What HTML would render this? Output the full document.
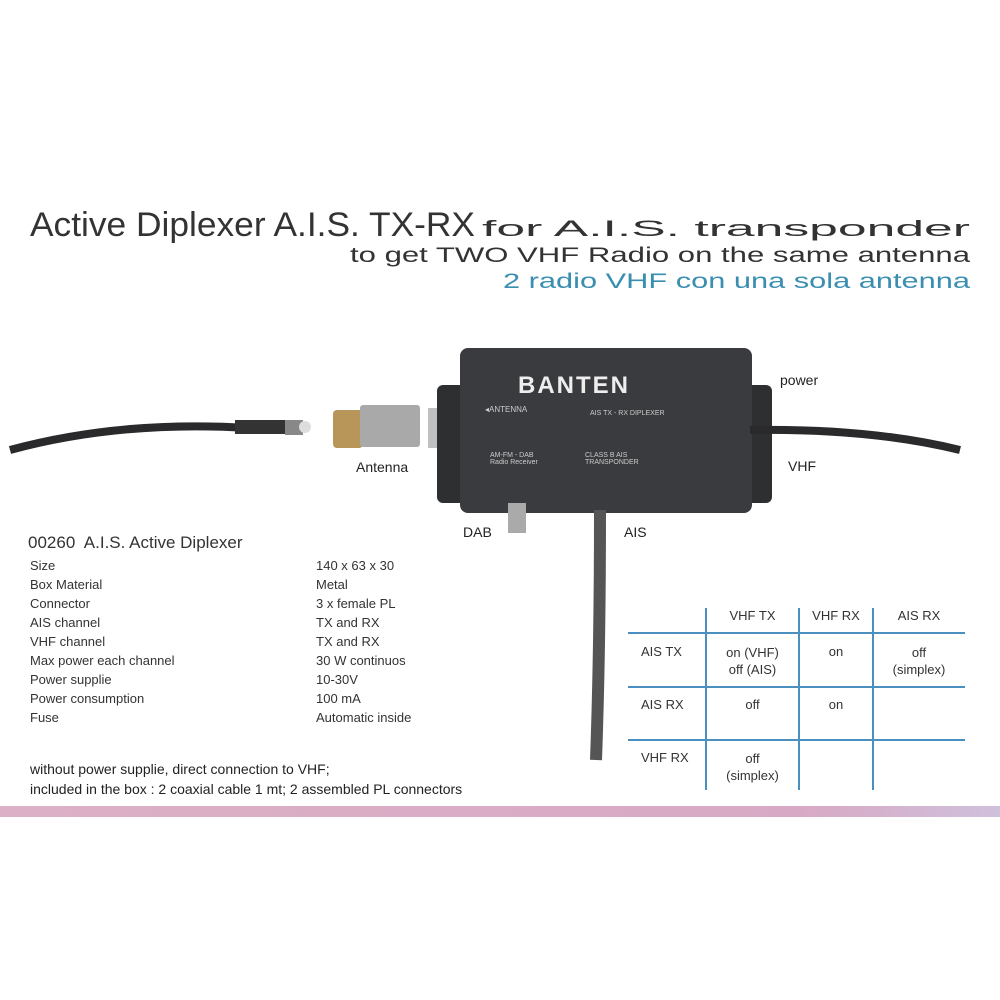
<!DOCTYPE html>
<html><head><meta charset="utf-8"><style>
body{margin:0;width:1000px;height:1000px;background:#fff;position:relative;overflow:hidden;font-family:"Liberation Sans",sans-serif;color:#222}
.a{position:absolute;white-space:nowrap}
.t{font-size:13px;color:#333}
</style></head><body>
<svg class="a" style="left:0;top:0" width="1000" height="1000">
<defs><linearGradient id="pk" x1="0" x2="1"><stop offset="0" stop-color="#dcb0c6"/><stop offset="0.8" stop-color="#d8a9c4"/><stop offset="1" stop-color="#cfc0dc"/></linearGradient></defs>
<g font-family="Liberation Sans, sans-serif" fill="#333">
<text x="30" y="236" font-size="34" textLength="445" lengthAdjust="spacingAndGlyphs">Active Diplexer A.I.S. TX-RX</text>
<text x="482" y="236" font-size="22" textLength="488" lengthAdjust="spacingAndGlyphs">for A.I.S. transponder</text>
<text x="350" y="262" font-size="21" textLength="620" lengthAdjust="spacingAndGlyphs">to get TWO VHF Radio on the same antenna</text>
<text x="503" y="288" font-size="21" fill="#3a8fb0" textLength="467" lengthAdjust="spacingAndGlyphs">2 radio VHF con una sola antenna</text>
</g>
<path d="M10,450 Q120,420 250,428" stroke="#2a2a2c" stroke-width="8" fill="none"/>
<rect x="235" y="420" width="55" height="14" fill="#333"/>
<rect x="285" y="420" width="18" height="15" fill="#888"/>
<circle cx="305" cy="427" r="6" fill="#ddd"/>
<rect x="333" y="410" width="30" height="38" rx="4" fill="#b8965a"/>
<rect x="360" y="405" width="60" height="42" rx="3" fill="#a9a9a9"/>
<rect x="428" y="408" width="40" height="40" fill="#c0c0c0"/>
<rect x="437" y="385" width="335" height="118" rx="6" fill="#2e2f31"/>
<rect x="460" y="348" width="292" height="165" rx="8" fill="#3a3b3e"/>
<path d="M750,430 Q870,428 960,450" stroke="#2a2a2c" stroke-width="8" fill="none"/>
<path d="M600,510 Q600,650 596,760" stroke="#555" stroke-width="12" fill="none"/>
<rect x="508" y="503" width="18" height="30" fill="#aaa"/>
<line x1="628" y1="633" x2="965" y2="633" stroke="#4a8fc0" stroke-width="2"/>
<line x1="628" y1="687" x2="965" y2="687" stroke="#4a8fc0" stroke-width="2"/>
<line x1="628" y1="740" x2="965" y2="740" stroke="#4a8fc0" stroke-width="2"/>
<line x1="706" y1="608" x2="706" y2="790" stroke="#4a8fc0" stroke-width="2"/>
<line x1="799" y1="608" x2="799" y2="790" stroke="#4a8fc0" stroke-width="2"/>
<line x1="873" y1="608" x2="873" y2="790" stroke="#4a8fc0" stroke-width="2"/>
<rect x="0" y="806" width="1000" height="11" fill="url(#pk)"/>
</svg>
<div class="a" style="left:518px;top:372px;font-size:24px;font-weight:bold;color:#eee;letter-spacing:2px">BANTEN</div>
<div class="a" style="left:485px;top:405px;font-size:8px;color:#ccc">◂ANTENNA</div>
<div class="a" style="left:590px;top:410px;font-size:7px;color:#ccc">AIS TX - RX DIPLEXER</div>
<div class="a" style="left:490px;top:452px;font-size:7px;color:#ccc">AM-FM - DAB<br>Radio Receiver</div>
<div class="a" style="left:585px;top:452px;font-size:7px;color:#ccc">CLASS B AIS<br>TRANSPONDER</div>
<div class="a" style="left:780px;top:372px;font-size:14px">power</div>
<div class="a" style="left:788px;top:458px;font-size:14px">VHF</div>
<div class="a" style="left:356px;top:459px;font-size:14px">Antenna</div>
<div class="a" style="left:463px;top:524px;font-size:14px">DAB</div>
<div class="a" style="left:624px;top:524px;font-size:14px">AIS</div>
<div class="a" style="left:28px;top:533px;font-size:17px;color:#333">00260&nbsp; A.I.S. Active Diplexer</div>
<div class="a t" style="left:30px;top:556px;line-height:19px">Size<br>Box Material<br>Connector<br>AIS channel<br>VHF channel<br>Max power each channel<br>Power supplie<br>Power consumption<br>Fuse</div>
<div class="a t" style="left:316px;top:556px;line-height:19px">140 x 63 x 30<br>Metal<br>3 x female PL<br>TX and RX<br>TX and RX<br>30 W continuos<br>10-30V<br>100 mA<br>Automatic inside</div>
<div class="a" style="left:30px;top:759px;font-size:14px;line-height:20px;color:#222">without power supplie, direct connection to VHF;<br>included in the box : 2 coaxial cable 1 mt; 2 assembled PL connectors</div>
<div class="a t" style="left:706px;top:608px;width:93px;text-align:center">VHF TX</div>
<div class="a t" style="left:799px;top:608px;width:74px;text-align:center">VHF RX</div>
<div class="a t" style="left:873px;top:608px;width:92px;text-align:center">AIS RX</div>
<div class="a t" style="left:641px;top:644px">AIS TX</div>
<div class="a t" style="left:641px;top:697px">AIS RX</div>
<div class="a t" style="left:641px;top:750px">VHF RX</div>
<div class="a t" style="left:706px;top:644px;width:93px;text-align:center;line-height:17px">on (VHF)<br>off (AIS)</div>
<div class="a t" style="left:799px;top:644px;width:74px;text-align:center">on</div>
<div class="a t" style="left:873px;top:644px;width:92px;text-align:center;line-height:17px">off<br>(simplex)</div>
<div class="a t" style="left:706px;top:697px;width:93px;text-align:center">off</div>
<div class="a t" style="left:799px;top:697px;width:74px;text-align:center">on</div>
<div class="a t" style="left:706px;top:750px;width:93px;text-align:center;line-height:17px">off<br>(simplex)</div>
</body></html>
